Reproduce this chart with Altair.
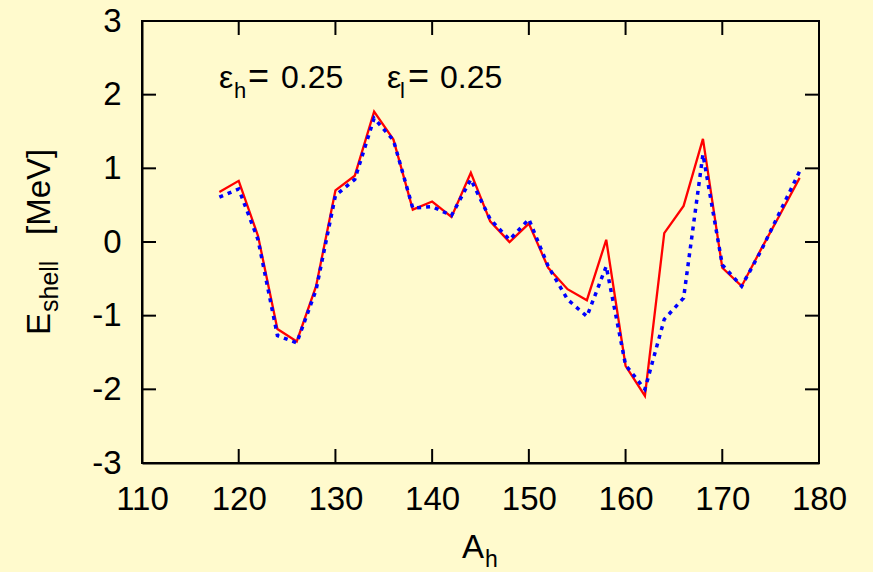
import altair as alt
import pandas as pd

# ---- data ----
A_h = [118, 120, 122, 124, 126, 128, 130, 132, 134, 136, 138, 140, 142, 144, 146,
       148, 150, 152, 154, 156, 158, 160, 162, 164, 166, 168, 170, 172, 174, 176, 178]
E_red = [0.68, 0.83, 0.08, -1.18, -1.35, -0.60, 0.70, 0.90, 1.77, 1.39, 0.44, 0.55,
         0.34, 0.94, 0.28, 0.00, 0.25, -0.35, -0.64, -0.79, 0.03, -1.68, -2.09, 0.12,
         0.49, 1.40, -0.35, -0.60, -0.10, 0.38, 0.87]
E_blue = [0.61, 0.72, 0.03, -1.27, -1.37, -0.65, 0.63, 0.85, 1.68, 1.38, 0.46, 0.48,
          0.36, 0.85, 0.31, 0.03, 0.31, -0.33, -0.78, -1.01, -0.33, -1.67, -2.00, -1.05,
          -0.76, 1.19, -0.31, -0.60, -0.12, 0.42, 0.96]
x_ticks = [110, 120, 130, 140, 150, 160, 170, 180]
y_ticks = [-3, -2, -1, 0, 1, 2, 3]
x_inner = [120, 130, 140, 150, 160, 170]
y_inner = [-2, -1, 0, 1, 2]

W, H = 677, 442
FONT = "Liberation Sans"
BG = "#fffacd"

df = pd.DataFrame({"A": A_h, "red": E_red, "blue": E_blue})

xs = alt.Scale(domain=[110, 180], nice=False, zero=False)
ys = alt.Scale(domain=[-3, 3], nice=False, zero=False)

LBL = "datum.value < 0 ? '-' + abs(datum.value) : '' + datum.value"
xaxis = alt.Axis(values=x_ticks, title=None, grid=False, ticks=False, tickSize=0,
                 domainColor="black", domainWidth=2, labelFont=FONT, labelFontSize=33,
                 labelColor="black", labelPadding=20, labelFlush=False, labelExpr=LBL)
yaxis = alt.Axis(values=y_ticks, title=None, grid=False, ticks=False, tickSize=0,
                 domainColor="black", domainWidth=2, labelFont=FONT, labelFontSize=33,
                 labelColor="black", labelPadding=21, labelFlush=False, labelExpr=LBL)

base = alt.Chart(df)
red = base.mark_line(color="#ff0000", strokeWidth=2.3).encode(
    x=alt.X("A:Q", scale=xs, axis=xaxis),
    y=alt.Y("red:Q", scale=ys, axis=yaxis),
)
blue = base.mark_line(color="#0000ff", strokeWidth=3.5, strokeDash=[4, 5], strokeCap="butt").encode(
    x=alt.X("A:Q", scale=xs),
    y=alt.Y("blue:Q", scale=ys),
)

xt = pd.DataFrame({"v": x_inner})
yt = pd.DataFrame({"v": y_inner})
TL = 14
tick_bottom = alt.Chart(xt).mark_rule(color="black", strokeWidth=2).encode(
    x=alt.X("v:Q", scale=xs), y=alt.value(H), y2=alt.value(H - TL))
tick_top = alt.Chart(xt).mark_rule(color="black", strokeWidth=2).encode(
    x=alt.X("v:Q", scale=xs), y=alt.value(0), y2=alt.value(TL))
tick_left = alt.Chart(yt).mark_rule(color="black", strokeWidth=2).encode(
    y=alt.Y("v:Q", scale=ys), x=alt.value(0), x2=alt.value(TL))
tick_right = alt.Chart(yt).mark_rule(color="black", strokeWidth=2).encode(
    y=alt.Y("v:Q", scale=ys), x=alt.value(W), x2=alt.value(W - TL))


def label(t, x, y, size, angle=0):
    return alt.Chart(pd.DataFrame({"t": [t]})).mark_text(
        font=FONT, fontSize=size, color="black", align="left",
        baseline="alphabetic", angle=angle,
    ).encode(text="t:N", x=alt.value(x), y=alt.value(y))


texts = [
    # annotation
    label("ε", 77, 67, 32),
    label("h", 92, 77, 22),
    label("=", 106, 67, 36),
    label("0.25", 139, 67, 32),
    label("ε", 245, 67, 32),
    label("l", 258, 77, 22),
    label("=", 266, 67, 36),
    label("0.25", 298, 67, 32),
    # x title
    label("A", 320, 537, 33),
    label("h", 343, 546, 23),
    # y title (rotated)
    label("E", -92, 314, 33, 270),
    label("shell", -84, 291, 25, 270),
    label("[MeV]", -92, 214, 33, 270),
]

chart = alt.layer(red, blue, tick_bottom, tick_top, tick_left, tick_right, *texts).properties(
    width=W, height=H,
    autosize=alt.AutoSizeParams(type="none"),
    padding={"left": 142, "top": 21, "right": 54, "bottom": 109},
    background=BG,
).configure_view(stroke="black", strokeWidth=2, fill=BG)

chart.save("out.html", embed_options={"renderer": "svg", "actions": False})
